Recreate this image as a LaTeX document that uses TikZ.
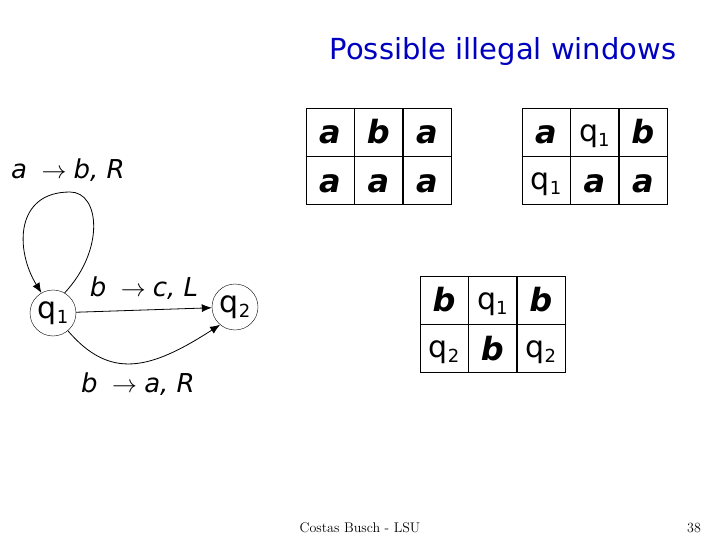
\documentclass[tikz,border=0pt]{standalone}
\usepackage{fontspec}
\setsansfont{DejaVu Sans}
\usetikzlibrary{positioning,arrows.meta}
\tikzstyle{state}=[circle, draw=black, thin, minimum size=46pt, inner sep=0pt,
                   font=\sffamily\fontsize{26}{26}\selectfont]
\tikzstyle{cell}=[rectangle, draw=black, thin, minimum width=48pt, minimum height=48pt,
                  inner sep=0pt, font=\sffamily\bfseries\itshape\fontsize{32}{32}\selectfont]
\tikzstyle{trans}=[-{Latex[length=10pt,width=8pt]}, thick]
\tikzstyle{lbl}=[font=\sffamily\itshape\fontsize{26}{26}\selectfont, inner sep=0pt]
\newcommand{\qs}[1]{{\normalfont\sffamily\fontsize{30}{30}\selectfont q\raisebox{-5pt}{\fontsize{18}{18}\selectfont #1}}}
\newcommand{\ar}{\;\;$\rightarrow$\;}
\begin{document}
\begin{tikzpicture}[x=1pt, y=-1pt]
\useasboundingbox (0,0) rectangle (720,540);
\node[font=\sffamily\fontsize{29}{29}\selectfont, text=blue!75!black] (TITLE) at (503,52) {Possible illegal windows};

% automaton
\node (Q1) [state] at (53,313) {\qs{1}};
\node (Q2) [state] at (235,307) {\qs{2}};
\draw[trans] (Q1) -- node[lbl, above=10pt] {b\ar c, L} (Q2);
\draw[trans] (Q1.60) .. controls (105,250) and (100,192) .. (70,192)
   .. controls (15,192) and (15,250) .. (Q1.120);
\draw[trans] (Q1.-50) .. controls (110,380) and (150,370) .. (Q2.-130);
\node[lbl] (LOOP) at (68,170) {a\ar b, R};
\node[lbl] (DOWN) at (138,384) {b\ar a, R};

% windows
\foreach \x/\y/\a/\b/\c/\d/\e/\f/\n in {
   330/132/a/b/a/a/a/a/A,
   546/132/a/\qs{1}/b/\qs{1}/a/a/B,
   444/300/b/\qs{1}/b/\qs{2}/b/\qs{2}/C}{
  \node[cell] (\n11) at (\x,\y) {\vphantom{b}\a};
  \node[cell, right=0pt of \n11] (\n12) {\vphantom{b}\b};
  \node[cell, right=0pt of \n12] (\n13) {\vphantom{b}\c};
  \node[cell, below=0pt of \n11] (\n21) {\vphantom{b}\d};
  \node[cell, right=0pt of \n21] (\n22) {\vphantom{b}\e};
  \node[cell, right=0pt of \n22] (\n23) {\vphantom{b}\f};
}

\node[font=\fontsize{14}{14}\selectfont] (FOOT) at (360,528) {Costas Busch - LSU};
\node[font=\fontsize{14}{14}\selectfont] (PAGE) at (694,528) {38};
\end{tikzpicture}
\end{document}
